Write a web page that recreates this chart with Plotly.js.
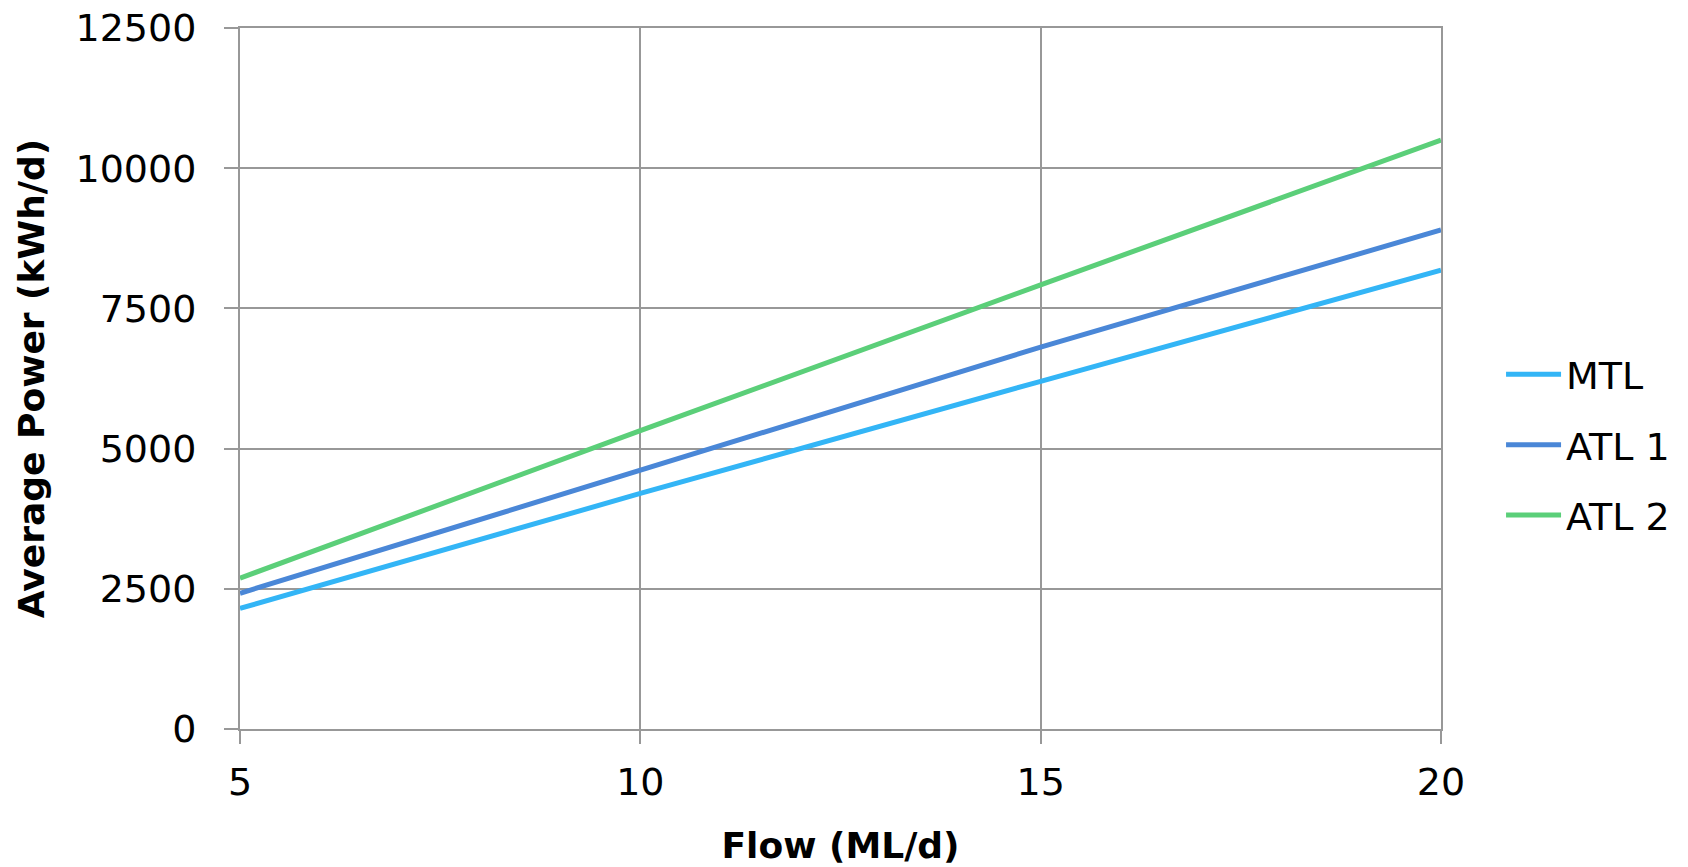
<!DOCTYPE html>
<html>
<head>
<meta charset="utf-8">
<script src="https://cdn.plot.ly/plotly-3.0.1.min.js"></script>
<style>
  html, body { margin: 0; padding: 0; background: #ffffff; }
  #chart { width: 1688px; height: 867px; }
</style>
</head>
<body>
<div id="chart"></div>
<script>
// Data
const flow = [5, 10, 15, 20];
const mtl  = [2150, 4200, 6200, 8180];
const atl1 = [2420, 4610, 6810, 8900];
const atl2 = [2690, 5320, 7920, 10500];

const seriesNames = ['MTL', 'ATL 1', 'ATL 2'];
const seriesColors = ['#33b5f6', '#4a87d7', '#5bcf79'];

const xTicks = [5, 10, 15, 20];
const yTicks = [0, 2500, 5000, 7500, 10000, 12500];

const xTitle = 'Flow (ML/d)';
const yTitle = 'Average Power (kWh/d)';

const seriesValues = [mtl, atl1, atl2];
const traces = seriesValues.map((vals, i) => ({
  x: flow,
  y: vals,
  type: 'scatter',
  mode: 'lines',
  name: seriesNames[i],
  legendgroup: 'g' + i,
  line: { color: seriesColors[i], width: 5 }
}));

const gridColor = '#989898';
const tickFont = { family: 'DejaVu Sans', size: 38, color: '#000000' };
const titleFont = { family: 'DejaVu Sans', size: 36, color: '#000000', weight: 'bold' };

const layout = {
  width: 1688,
  height: 867,
  margin: { l: 240, r: 247, t: 28, b: 138, pad: 0 },
  paper_bgcolor: '#ffffff',
  plot_bgcolor: '#ffffff',
  showlegend: true,
  legend: {
    x: 1.05, xanchor: 'left',
    y: 0.405, yanchor: 'middle',
    font: { family: 'DejaVu Sans', size: 38, color: '#000000' },
    tracegroupgap: 18,
    itemwidth: 55,
    bgcolor: 'rgba(0,0,0,0)'
  },
  xaxis: {
    range: [5, 20],
    tickvals: xTicks,
    ticktext: xTicks.map(String),
    showgrid: true,
    gridcolor: gridColor,
    gridwidth: 2,
    showline: true,
    linecolor: gridColor,
    linewidth: 2,
    mirror: true,
    zeroline: false,
    ticks: 'outside',
    ticklen: 13,
    tickwidth: 2,
    tickcolor: gridColor,
    tickfont: tickFont,
    ticklabelstandoff: 5,
    title: { text: '<b>' + xTitle + '</b>', font: titleFont, standoff: 30 }
  },
  yaxis: {
    range: [0, 12500],
    tickvals: yTicks,
    ticktext: yTicks.map(String),
    showgrid: true,
    gridcolor: gridColor,
    gridwidth: 2,
    showline: true,
    linecolor: gridColor,
    linewidth: 2,
    mirror: true,
    zeroline: false,
    ticks: 'outside',
    ticklen: 14,
    tickwidth: 2,
    tickcolor: gridColor,
    tickfont: tickFont,
    ticklabelstandoff: 20,
    title: { text: '<b>' + yTitle + '</b>', font: titleFont, standoff: 20 }
  }
};

Plotly.newPlot('chart', traces, layout, { displayModeBar: false, staticPlot: true });
</script>
</body>
</html>
